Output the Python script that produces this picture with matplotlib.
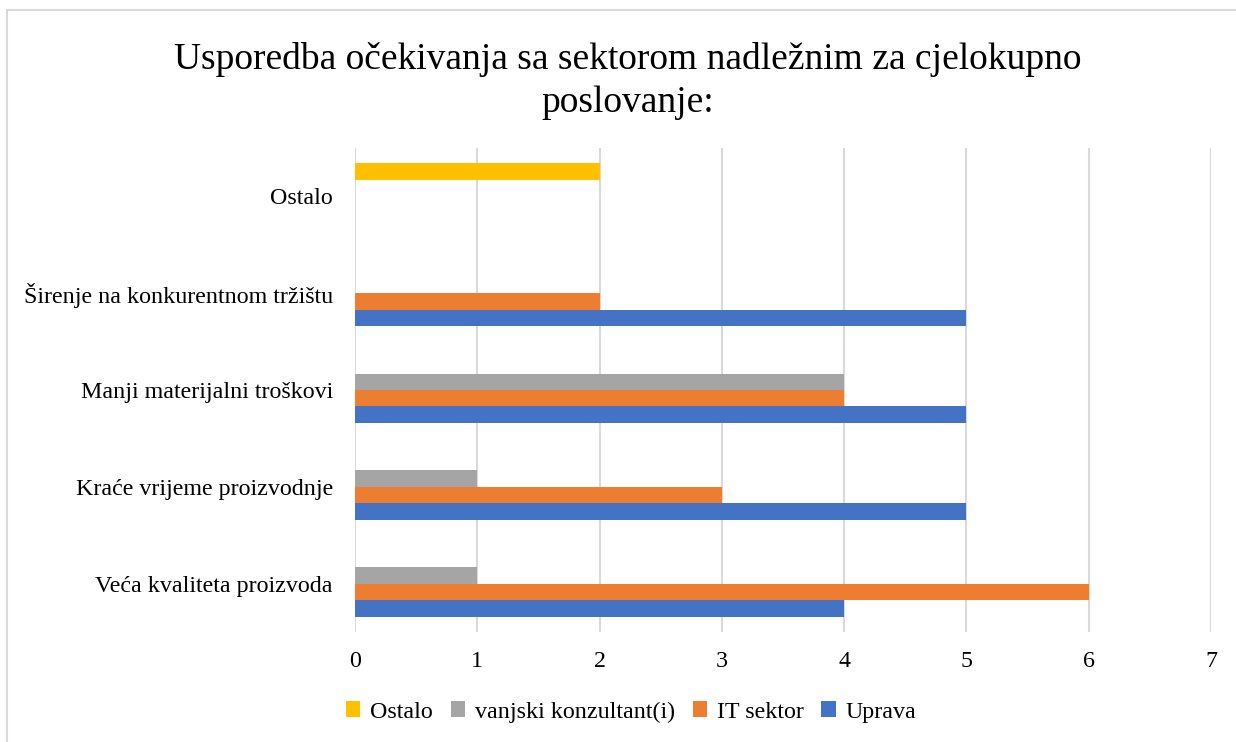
import matplotlib
matplotlib.use("Agg")
import matplotlib.pyplot as plt
import numpy as np
from matplotlib.patches import Rectangle

categories = ["Veća kvaliteta proizvoda", "Kraće vrijeme proizvodnje",
              "Manji materijalni troškovi", "Širenje na konkurentnom tržištu", "Ostalo"]
series_names = ["Uprava", "IT sektor", "vanjski konzultant(i)", "Ostalo"]
uprava = [4, 5, 5, 5, 0]
it_sektor = [6, 3, 4, 2, 0]
vanjski = [1, 1, 4, 0, 0]
ostalo = [0, 0, 0, 0, 2]
colors = ["#4472C4", "#ED7D31", "#A5A5A5", "#FFC000"]
xticks = [0, 1, 2, 3, 4, 5, 6, 7]

plt.rcParams['font.family'] = ['Liberation Serif', 'DejaVu Serif']

fig = plt.figure(figsize=(12.36, 7.42), dpi=100)
W, H = 1236, 742
ax = fig.add_axes([355 / W, 1 - 632 / H, (1211 - 355) / W, (632 - 148) / H])

data = [uprava, it_sektor, vanjski, ostalo]
y = np.arange(len(categories))
h = 0.17
offsets = [-1.5 * h, -0.5 * h, 0.5 * h, 1.5 * h]
handles = []
for vals, off, c, name in zip(data, offsets, colors, series_names):
    b = ax.barh(y + off, vals, height=h, color=c, label=name, linewidth=0)
    handles.append(b)

ax.set_ylim(-0.5, len(categories) - 0.5)
ax.set_xlim(0, 7)
ax.set_xticks(xticks)
ax.set_yticks(y)
ax.set_yticklabels(categories)
ax.tick_params(axis='both', length=0, labelsize=17.3, colors='black')
ax.tick_params(axis='x', pad=14)
ax.tick_params(axis='y', pad=16)
ax.grid(axis='x', color='#D9D9D9', linewidth=1.5)
ax.set_axisbelow(True)
for s in ax.spines.values():
    s.set_visible(False)

fig.text(628 / W, 1 - 81 / H,
         "Usporedba očekivanja sa sektorom nadležnim za cjelokupno\nposlovanje:",
         ha='center', va='center', fontsize=27, linespacing=1.35)

leg = fig.legend(handles[::-1], series_names[::-1], loc='center',
                 bbox_to_anchor=(631 / W, 1 - 712 / H), ncol=4, frameon=False,
                 fontsize=17.3, handlelength=0.6, handleheight=0.6, handletextpad=0.4,
                 columnspacing=0.75)

fig.patches.append(Rectangle((7 / W, -0.1), 1.2, 1 - 10 / H + 0.1, transform=fig.transFigure,
                             fill=False, edgecolor='#D9D9D9', linewidth=1.5))

fig.savefig("out.png", dpi=100)
